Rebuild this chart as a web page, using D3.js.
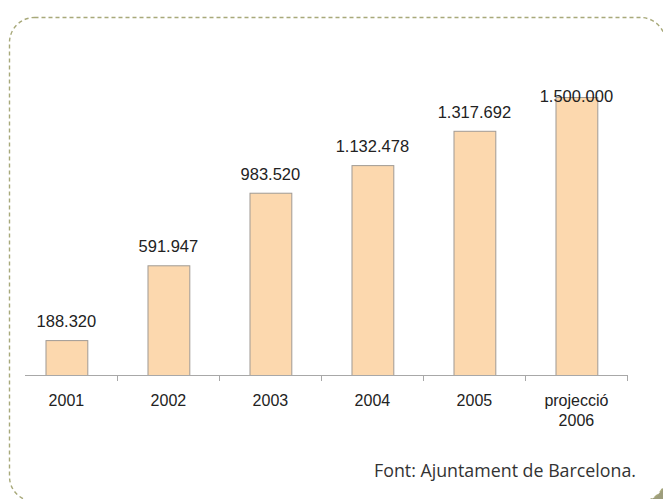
<!DOCTYPE html>
<html><head><meta charset="utf-8">
<script src="https://cdn.jsdelivr.net/npm/d3@7"></script>
<style>html,body{margin:0;padding:0;background:#fff;}svg{display:block;}</style>
</head><body>
<svg id="chart" width="663" height="499"></svg>
<script>
const categories = ["2001", "2002", "2003", "2004", "2005", "projecció\n2006"];
const values = [188320, 591947, 983520, 1132478, 1317692, 1500000];
const valueLabels = ["188.320", "591.947", "983.520", "1.132.478", "1.317.692", "1.500.000"];
const sourceText = "Font: Ajuntament de Barcelona.";

const svg = d3.select("#chart");

// page-curl shadow at bottom right
svg.append("path")
  .attr("d", "M663,466 C660,482 648,494 626,499 L663,499 Z")
  .attr("fill", "#9d9d7c");

// dashed rounded frame
svg.append("rect")
  .attr("x", 9.5).attr("y", 17.5).attr("width", 656).attr("height", 484)
  .attr("rx", 25).attr("ry", 25)
  .attr("fill", "#fff")
  .attr("stroke", "#a8a97a").attr("stroke-width", 1.4)
  .attr("stroke-dasharray", "4,3");

const x = d3.scaleBand().domain(categories).range([15.4, 627.4]).paddingInner(0.59).paddingOuter(0.295);
const xBand = d3.scaleBand().domain(categories).range([15.4, 627.4]);
const y = d3.scaleLinear().domain([0, 1500000]).range([375, 97]);

// bars
svg.append("g").selectAll("rect").data(values).join("rect")
  .attr("x", (d, i) => x(categories[i]) + 0.5)
  .attr("y", d => y(d) + 0.5)
  .attr("width", x.bandwidth())
  .attr("height", d => y(0) - y(d))
  .attr("fill", "#fcd8ae")
  .attr("stroke", "#a09a94").attr("stroke-width", 1);

// axis line + ticks
const ax = svg.append("g");
ax.append("line").attr("x1", 25).attr("x2", xBand.range()[1] + 0.5)
  .attr("y1", y(0) + 0.5).attr("y2", y(0) + 0.5)
  .attr("stroke", "#a8a8a8").attr("stroke-width", 1);
ax.selectAll("line.tick").data(categories).join("line").attr("class", "tick")
  .attr("x1", c => Math.round(xBand(c) + xBand.step()) + 0.5)
  .attr("x2", c => Math.round(xBand(c) + xBand.step()) + 0.5)
  .attr("y1", y(0)).attr("y2", y(0) + 6)
  .attr("stroke", "#a8a8a8").attr("stroke-width", 1);

// category labels
const cl = svg.append("g").attr("font-family", "'Liberation Sans', Arial, sans-serif")
  .attr("font-size", 16).attr("fill", "#222").attr("text-anchor", "middle");
categories.forEach(c => {
  const lines = c.split("\n");
  const t = cl.append("text").attr("x", xBand(c) + xBand.step() / 2).attr("y", 406);
  lines.forEach((ln, k) => {
    t.append("tspan").attr("x", xBand(c) + xBand.step() / 2).attr("dy", k === 0 ? 0 : 20).text(ln);
  });
});

// value labels
svg.append("g").attr("font-family", "'Liberation Sans', Arial, sans-serif")
  .attr("font-size", 16.5).attr("fill", "#222").attr("text-anchor", "middle")
  .selectAll("text").data(values).join("text")
  .attr("x", (d, i) => x(categories[i]) + x.bandwidth() / 2)
  .attr("y", d => Math.max(y(d) - 13, 101.5))
  .text((d, i) => valueLabels[i]);

// source
svg.append("text").attr("x", 374).attr("y", 477)
  .attr("font-family", "'Open Sans', sans-serif").attr("font-size", 19)
  .attr("fill", "#333")
  .attr("textLength", 262).attr("lengthAdjust", "spacingAndGlyphs")
  .text(sourceText);
</script>
</body></html>
